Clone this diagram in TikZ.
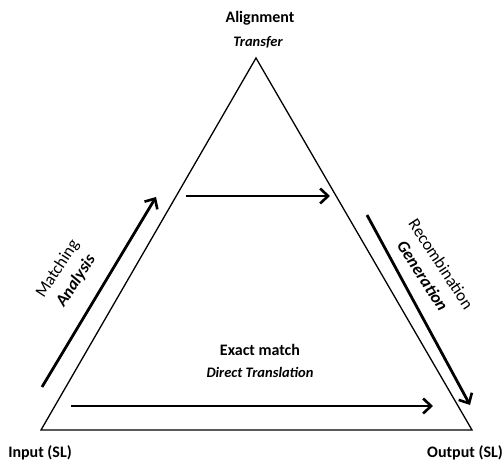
\documentclass[tikz,border=0pt]{standalone}
\usepackage{fontspec}
\setmainfont{Carlito}
\usetikzlibrary{arrows.meta}
\begin{document}
\begin{tikzpicture}[x=1pt,y=1pt,
  edge/.style={line width=1.3pt, line join=miter},
  flow/.style={line width=2.8pt, -{Straight Barb[length=8pt,width=15pt,line width=2.6pt]}},
  head/.style={font=\fontsize{16}{18}\selectfont\bfseries, inner sep=0pt},
  headit/.style={font=\fontsize{14.5}{16}\selectfont\bfseries\itshape, inner sep=0pt},
  side/.style={font=\fontsize{17}{22}\selectfont, inner sep=0pt, align=center}]
  \useasboundingbox (0,0) rectangle (504,463);

  % triangle corners
  \coordinate (apex) at (256,405);
  \coordinate (src) at (41,33);
  \coordinate (tgt) at (472,33);
  \draw[edge] (src) -- (apex) -- (tgt) -- cycle;

  % arrow ends
  \coordinate (anaA) at (42,76);
  \coordinate (anaB) at (156,266);
  \coordinate (trA) at (186,267);
  \coordinate (trB) at (330,267);
  \coordinate (genA) at (367,248);
  \coordinate (genB) at (470,58);
  \coordinate (dirA) at (71,57);
  \coordinate (dirB) at (433,57);

  \draw[flow] (anaA) -- (anaB);
  \draw[flow] (trA) -- (trB);
  \draw[flow] (genA) -- (genB);
  \draw[flow] (dirA) -- (dirB);

  % labels
  \node[head] (align) at (260,445) {Alignment};
  \node[headit] (transfer) at (258,421) {Transfer};
  \node[head] (exact) at (260,113) {Exact match};
  \node[headit] (direct) at (260,91) {Direct Translation};
  \node[head] (input) at (40,10) {Input (SL)};
  \node[head] (output) at (465,10) {Output (SL)};
  \node[side, rotate=57] (analysis) at (67,188)
    {Matching\\\textbf{\textit{Analysis}}};
  \node[side, rotate=-57] (generation) at (432,193)
    {Recombination\\\textbf{\textit{Generation}}};
\end{tikzpicture}
\end{document}
